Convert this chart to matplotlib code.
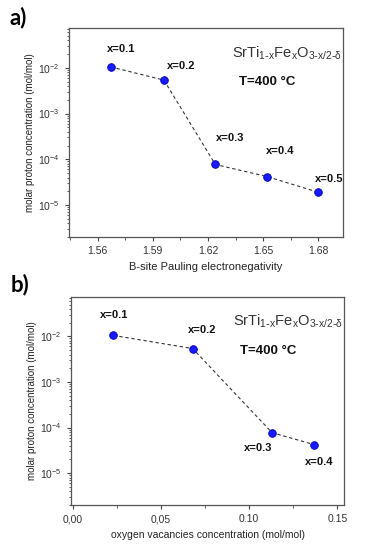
import matplotlib
matplotlib.use("Agg")
import matplotlib.pyplot as plt
from matplotlib.ticker import LogLocator, MultipleLocator, NullFormatter

plt.rcParams['font.family'] = ['Liberation Sans', 'DejaVu Sans']
plt.rcParams['mathtext.default'] = 'regular'

# panel a data
en = [1.567, 1.596, 1.624, 1.652, 1.680]
conc_a = [1.05e-2, 5.4e-3, 7.7e-5, 4.2e-5, 1.9e-5]
labels_a = ['x=0.1', 'x=0.2', 'x=0.3', 'x=0.4', 'x=0.5']
offs_a = [(11, 18), (17, 14), (15, 26), (13, 26), (11, 13)]

# panel b data
vac = [0.023, 0.068, 0.113, 0.137]
conc_b = [1.05e-2, 5.4e-3, 7.7e-5, 4.2e-5]
labels_b = ['x=0.1', 'x=0.2', 'x=0.3', 'x=0.4']
offs_b = [(1, 20), (9, 19), (-14, -15), (5, -17)]

formula = r'SrTi$_{1\text{-}x}$Fe$_{x}$O$_{3\text{-}x/2\text{-}\delta}$'

fig = plt.figure(figsize=(3.69, 5.5), dpi=100)
ax1 = fig.add_axes([0.187, 0.569, 0.7425, 0.38])
ax2 = fig.add_axes([0.1924, 0.0818, 0.740, 0.3787])

def style(ax, xs, ys, labels, offs):
    ax.plot(xs, ys, '--', color='#333333', lw=0.8, dashes=(3, 2.5), zorder=1)
    ax.plot(xs, ys, 'o', color='#1a1aff', mec='#0000b0', mew=0.6, ms=5.5, zorder=2)
    for x, y, t, o in zip(xs, ys, labels, offs):
        ax.annotate(t, (x, y), xytext=o, textcoords='offset pixels',
                    ha='center', va='center', fontsize=8, fontweight='bold', color='#111111')
    ax.set_yscale('log')
    ax.set_ylim(10**-5.7, 10**-1.13)
    ax.yaxis.set_major_locator(LogLocator(base=10, numticks=10))
    ax.yaxis.set_minor_locator(LogLocator(base=10, subs=range(2, 10), numticks=10))
    ax.yaxis.set_minor_formatter(NullFormatter())
    ax.tick_params(which='both', direction='out', top=False, right=False,
                   labelsize=7.5, labelcolor='#333333', color='#444444')
    ax.tick_params(which='major', length=3, width=0.8)
    ax.tick_params(which='minor', length=1.8, width=0.6)
    for s in ax.spines.values():
        s.set_color('#555555')
        s.set_linewidth(0.9)
    ax.set_ylabel('molar proton concentration (mol/mol)', fontsize=7, color='#222222', labelpad=2)
    ax.text(0.995, 0.88, formula, transform=ax.transAxes, ha='right', va='center',
            fontsize=10.5, color='#333333')
    ax.text(0.62, 0.74, 'T=400 °C', transform=ax.transAxes, ha='left', va='center',
            fontsize=9.5, fontweight='bold', color='#111111')

style(ax1, en, conc_a, labels_a, offs_a)
ax1.set_xlim(1.5444, 1.6934)
ax1.xaxis.set_major_locator(MultipleLocator(0.03))
ax1.xaxis.set_minor_locator(MultipleLocator(0.015))
ax1.xaxis.set_major_formatter(plt.FuncFormatter(lambda v, p: '%.2f' % v))
ax1.set_xlabel('B-site Pauling electronegativity', fontsize=8, color='#222222', labelpad=4)

style(ax2, vac, conc_b, labels_b, offs_b)
ax2.set_xlim(-0.001, 0.1538)
ax2.xaxis.set_major_locator(MultipleLocator(0.05))
ax2.xaxis.set_minor_locator(MultipleLocator(0.025))
ax2.xaxis.set_major_formatter(plt.FuncFormatter(lambda v, p: ('%.2f' % v).replace('.', ',') if v < 0.1 else '%.2f' % v))
ax2.set_xlabel('oxygen vacancies concentration (mol/mol)', fontsize=7.5, color='#222222', labelpad=4)

fig.text(0.049, 0.969, 'a)', ha='center', va='center', fontsize=16, fontweight='bold', family=['Lato', 'DejaVu Sans'])
fig.text(0.054, 0.482, 'b)', ha='center', va='center', fontsize=16, fontweight='bold', family=['Lato', 'DejaVu Sans'])

fig.savefig('out.png', dpi=100)
